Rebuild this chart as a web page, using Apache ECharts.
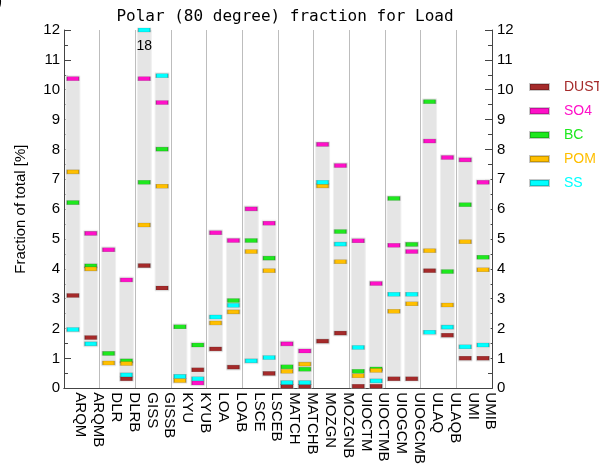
<!DOCTYPE html>
<html>
<head>
<meta charset="utf-8">
<script src="https://cdn.jsdelivr.net/npm/echarts@6/dist/echarts.min.js"></script>
<style>
  html, body { margin: 0; padding: 0; background: #fff; overflow: hidden; }
  /* a bit wider than the window so the legend text runs off the right edge like the original */
  #chart { width: 620px; height: 467px; }
</style>
</head>
<body>
<div id="chart"></div>
<script>
const models = ['ARQM', 'ARQMB', 'DLR', 'DLRB', 'GISS', 'GISSB', 'KYU', 'KYUB', 'LOA', 'LOAB', 'LSCE', 'LSCEB',
  'MATCH', 'MATCHB', 'MOZGN', 'MOZGNB', 'UIOCTM', 'UIOCTMB', 'UIOGCM', 'UIOGCMB', 'ULAQ', 'ULAQB', 'UMI', 'UMIB'];

// fraction of total [%] per model, null = not reported
const dust = [3.11, 1.70, null, 0.32, 4.11, 3.36, null, 0.62, 1.32, 0.71, null, 0.50,
  0.07, 0.07, 1.58, 1.85, 0.07, 0.07, 0.32, 0.32, 3.94, 1.78, 1.01, 1.01];
const so4 = [10.37, 5.19, 4.64, 3.63, 10.37, 9.57, null, 0.18, 5.21, 4.95, 6.01, 5.53,
  1.49, 1.25, 8.17, 7.46, 4.94, 3.51, 4.79, 4.58, 8.28, 7.73, 7.65, 6.90];
const bc = [6.22, 4.10, 1.17, 0.92, 6.90, 8.01, 2.06, 1.45, null, 2.94, 4.95, 4.36,
  0.72, 0.64, null, 5.25, 0.57, 0.65, 6.36, 4.82, 9.60, 3.91, 6.15, 4.39];
const pom = [7.25, 4.00, 0.85, 0.83, 5.47, 6.77, 0.26, null, 2.19, 2.56, 4.58, 3.94,
  0.57, 0.81, 6.78, 4.24, 0.42, 0.60, 2.58, 2.83, 4.61, 2.79, 4.91, 3.97];
const ss = [1.97, 1.49, null, 0.45, 18, 10.47, 0.40, 0.32, 2.39, 2.78, 0.92, 1.03,
  0.19, 0.19, 6.90, 4.83, 1.37, 0.25, 3.15, 3.15, 1.88, 2.05, 1.39, 1.45];

const yTicks = [0, 12, 1]; // min, max, step

const species = [
  { name: 'DUST', values: dust, color: '#a52a2a' },
  { name: 'SO4', values: so4, color: '#ff10c8' },
  { name: 'BC', values: bc, color: '#1ee81e' },
  { name: 'POM', values: pom, color: '#ffbf00' },
  { name: 'SS', values: ss, color: '#00ffff' }
];

const yMax = yTicks[1];
const font = 'Liberation Sans, Arial, sans-serif';
const axisColor = '#444';

// grey range bar: min..max over the species of each model
const rangeData = models.map((m, i) => {
  const vals = species.map(s => s.values[i]).filter(v => v != null);
  return [i, Math.min(...vals), Math.min(Math.max(...vals), yMax)];
});

const chart = echarts.init(document.getElementById('chart'));

const markerSeries = species.map(s => ({
  name: s.name,
  type: 'scatter',
  symbol: 'rect',
  symbolSize: [12, 4],
  z: 3,
  itemStyle: { color: s.color, borderColor: 'rgba(0,0,0,0.22)', borderWidth: 1, opacity: 1 },
  emphasis: { disabled: true },
  data: s.values.map((v, i) => {
    if (v == null) return null;
    const item = { value: [i, Math.min(v, yMax)] };
    if (v > yMax) {
      item.label = {
        show: true, position: 'bottom', distance: 7, formatter: String(v),
        color: '#000', fontSize: 14, fontFamily: font
      };
    }
    return item;
  })
}));

// legend text pushed a bit away from its swatch
const legendRich = {};
species.forEach(s => {
  legendRich[s.name] = { color: s.color, fontSize: 14, padding: [0, 0, 0, 10] };
});

const option = {
  animation: false,
  textStyle: { fontFamily: font },
  title: {
    text: 'Polar (80 degree) fraction for Load',
    left: 280,
    textAlign: 'center',
    top: 4,
    textStyle: { fontFamily: 'DejaVu Sans Mono', fontSize: 16, fontWeight: 'normal', color: '#000' }
  },
  graphic: [{
    type: 'text', left: -4, top: -8,
    style: { text: ')', font: 'bold 18px Liberation Sans', fill: '#000' }
  }],
  legend: {
    orient: 'vertical',
    left: 529,
    top: 80,
    padding: 0,
    itemWidth: 19,
    itemHeight: 6,
    itemGap: 10,
    icon: 'rect',
    selectedMode: false,
    formatter: (name) => '{' + name + '|' + name + '}',
    textStyle: { fontSize: 14, rich: legendRich },
    data: species.map(s => s.name)
  },
  grid: { left: 64, right: 128, top: 30, bottom: 76 },
  xAxis: [
    {
      type: 'category',
      data: models,
      position: 'bottom',
      axisLine: { lineStyle: { color: axisColor } },
      axisTick: { inside: true, alignWithLabel: true, length: 5, lineStyle: { color: axisColor } },
      axisLabel: { rotate: -90, interval: 0, margin: 4, fontSize: 15, color: '#000', verticalAlign: 'bottom' },
      splitLine: { show: true, interval: (i) => i > 0 && i % 2 === 0, lineStyle: { color: '#bdbdbd' } }
    },
    {
      type: 'category',
      data: models,
      position: 'top',
      axisLine: { lineStyle: { color: axisColor } },
      axisTick: { inside: true, alignWithLabel: true, length: 5, lineStyle: { color: axisColor } },
      axisLabel: { show: false }
    }
  ],
  yAxis: [
    {
      type: 'value', min: yTicks[0], max: yTicks[1], interval: yTicks[2], position: 'left',
      name: 'Fraction of total [%]', nameLocation: 'middle', nameGap: 36,
      nameTextStyle: { fontSize: 15, color: '#000' },
      axisLine: { show: true, lineStyle: { color: axisColor } },
      axisTick: { show: true, inside: true, length: 7, lineStyle: { color: axisColor } },
      minorTick: { show: true, splitNumber: 2, length: 4, lineStyle: { color: axisColor } },
      axisLabel: { fontSize: 15, color: '#000', margin: 4 },
      splitLine: { show: false }
    },
    {
      type: 'value', min: yTicks[0], max: yTicks[1], interval: yTicks[2], position: 'right',
      axisLine: { show: true, lineStyle: { color: axisColor } },
      axisTick: { show: true, inside: true, length: 7, lineStyle: { color: axisColor } },
      minorTick: { show: true, splitNumber: 2, length: 4, lineStyle: { color: axisColor } },
      axisLabel: { fontSize: 15, color: '#000', margin: 5 },
      splitLine: { show: false }
    }
  ],
  series: [
    {
      name: 'range',
      type: 'custom',
      clip: true,
      z: 1,
      silent: true,
      renderItem: (params, api) => {
        const top = api.coord([api.value(0), api.value(2)]);
        const bot = api.coord([api.value(0), api.value(1)]);
        return {
          type: 'rect',
          shape: { x: top[0] - 7, y: top[1] - 3, width: 14, height: bot[1] - top[1] + 6 },
          style: { fill: '#e5e5e5', stroke: '#f0f0f0', lineWidth: 1 }
        };
      },
      data: rangeData
    },
    ...markerSeries
  ]
};

chart.setOption(option);
</script>
</body>
</html>
